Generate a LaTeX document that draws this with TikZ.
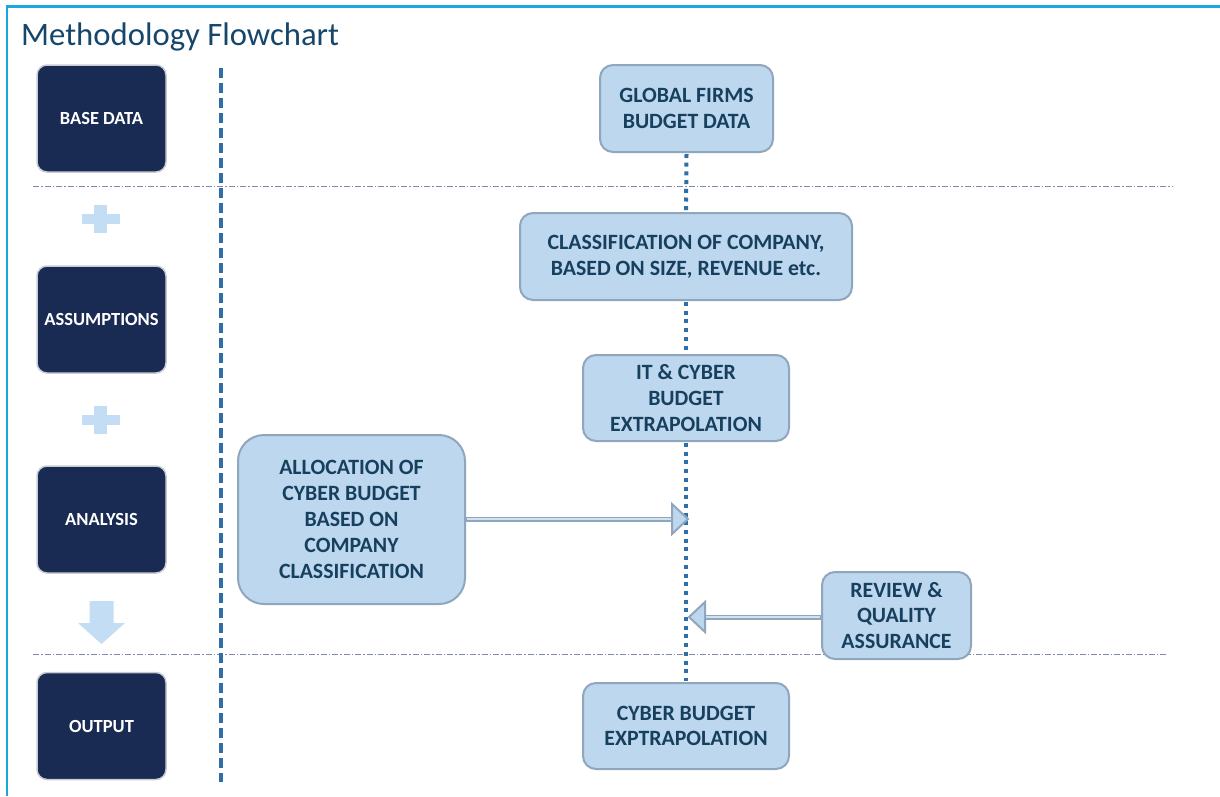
\documentclass[tikz,border=0pt]{standalone}
\usepackage{fontspec}
\setmainfont{Carlito}
\definecolor{frame}{HTML}{1AA7DE}
\definecolor{titlec}{HTML}{17466B}
\definecolor{darkbox}{HTML}{1A2B53}
\definecolor{darkedge}{HTML}{C8CCD2}
\definecolor{lightfill}{HTML}{BDD7EE}
\definecolor{lightedge}{HTML}{8FA6BD}
\definecolor{boxtext}{HTML}{17405F}
\definecolor{vline}{HTML}{2E6FA7}
\definecolor{sep}{HTML}{7F8CAE}
\definecolor{symb}{HTML}{C3DDF5}
\tikzset{
  darkstage/.style={draw=darkedge, line width=1.5pt, fill=darkbox, rounded corners=10pt,
    minimum width=129pt, minimum height=107pt, text=white, font=\bfseries\fontsize{18.5}{22}\selectfont, inner sep=0pt},
  stepbox/.style={draw=lightedge, line width=2pt, fill=lightfill, rounded corners=13pt,
    text=boxtext, font=\bfseries\fontsize{21.8}{25.8}\selectfont, align=center, inner sep=0pt},
  sepline/.style={draw=sep, line width=0.9pt, dash pattern=on 6pt off 2pt on 1.5pt off 2pt},
  shaft/.style={draw=lightedge, line width=5pt},
  shaftin/.style={draw=lightfill!70!white, line width=1.6pt},
  headtri/.style={draw=lightedge, line width=2pt, fill=lightfill, line join=miter},
  symbol/.style={fill=symb, draw=none},
}
\begin{document}
\begin{tikzpicture}[x=1pt,y=-1pt]
\useasboundingbox (0,0) rectangle (1220,796);
% frame
\draw[frame, line width=2.5pt] (7,796) -- (7,6.5) -- (1220,6.5);
% title
\node[anchor=base west, inner sep=0pt, text=titlec, font=\fontsize{32.7}{38}\selectfont] (title) at (21,45) {Methodology Flowchart};

% separators
\draw[sepline] (33,186) -- (1172,186);
\draw[sepline] (33,654) -- (1168,654);
% vertical dashed line
\draw[vline, line width=4pt, dash pattern=on 10pt off 5pt] (221,68) -- (221,782);

% left stage boxes
\node[darkstage] (base) at (101.5,118.5) {BASE DATA};
\node[darkstage] (assum) at (101.5,319.5) {ASSUMPTIONS};
\node[darkstage] (anal) at (101.5,519.5) {ANALYSIS};
\node[darkstage] (outp) at (101.5,726) {OUTPUT};

% plus signs
\foreach \yc in {219,420}{
  \fill[symbol] (82,\yc-5) rectangle (120,\yc+5);
  \fill[symbol] (94,\yc-14) rectangle (107,\yc+14);
}
% down arrow
\fill[symbol] (89.5,601) -- (113.5,601) -- (113.5,623) -- (125,623) -- (101.5,644) -- (78,623) -- (89.5,623) -- cycle;

% right flow boxes
\node[stepbox, minimum width=173pt, minimum height=87pt] (glob) at (686.5,108.5) {GLOBAL FIRMS\\BUDGET DATA};
\node[stepbox, minimum width=332pt, minimum height=87pt] (class) at (686,256.5) {CLASSIFICATION OF COMPANY,\\BASED ON SIZE, REVENUE etc.};
\node[stepbox, minimum width=206pt, minimum height=86pt] (itc) at (686,398) {IT \& CYBER\\BUDGET\\EXTRAPOLATION};
\node[stepbox, minimum width=227pt, minimum height=169pt, rounded corners=26pt] (alloc) at (351.5,519.5) {ALLOCATION OF\\CYBER BUDGET\\BASED ON\\COMPANY\\CLASSIFICATION};
\node[stepbox, minimum width=149pt, minimum height=87pt] (rev) at (896.5,615.5) {REVIEW \&\\QUALITY\\ASSURANCE};
\node[stepbox, minimum width=206pt, minimum height=86pt] (cbe) at (686,726) {CYBER BUDGET\\EXPTRAPOLATION};

% dotted central line between boxes
\begin{scope}[vline, line width=4pt, dash pattern=on 4pt off 4.7pt]
\draw ([yshift=-1pt]glob.south) -- ([yshift=1pt]class.north);
\draw ([yshift=-1pt]class.south) -- ([yshift=1pt]itc.north);
\draw ([yshift=-1pt]itc.south) -- ([yshift=1pt]cbe.north);
\end{scope}

% arrows into the dotted line
\coordinate (t1) at (688,519);
\coordinate (t2) at (689,617);
\draw[shaft] (alloc.east |- t1) -- ([xshift=-15pt]t1);
\draw[shaftin] ([xshift=1pt]alloc.east |- t1) -- ([xshift=-15pt]t1);
\draw[headtri] (t1) -- ++(-16,-15) -- ++(0,30) -- cycle;
\draw[shaft] (rev.west |- t2) -- ([xshift=15pt]t2);
\draw[shaftin] ([xshift=-1pt]rev.west |- t2) -- ([xshift=15pt]t2);
\draw[headtri] (t2) -- ++(16,-15) -- ++(0,30) -- cycle;
\end{tikzpicture}
\end{document}
